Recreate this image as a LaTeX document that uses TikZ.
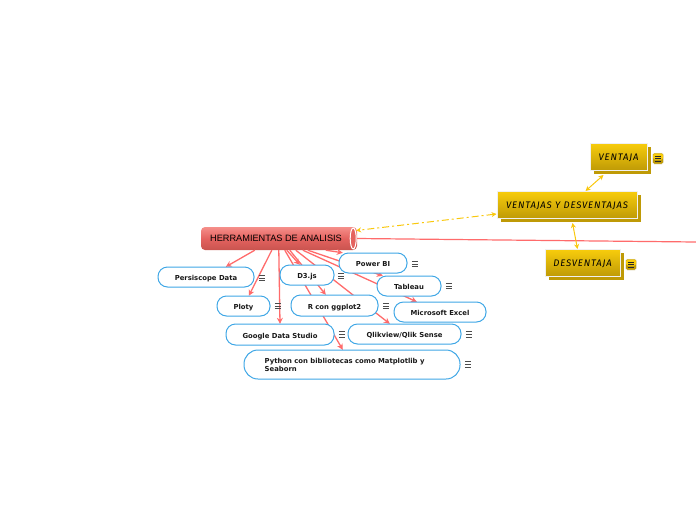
\documentclass[tikz,border=0pt]{standalone}
\usepackage{fontspec}
\setmainfont{DejaVu Sans}
\newfontfamily\censans{Liberation Sans}
\newfontfamily\handfont[LetterSpace=9]{Fira Sans}
\usetikzlibrary{arrows.meta,shadows}
\definecolor{rl}{HTML}{FF6B6B}
\definecolor{bl}{HTML}{3FA7E6}
\definecolor{yl}{HTML}{F9C80E}
\definecolor{gt}{HTML}{F7CC0C}
\definecolor{gb}{HTML}{BF9A06}
\definecolor{ct}{HTML}{F58F8A}
\definecolor{cm}{HTML}{E4625F}
\definecolor{cb}{HTML}{C9544F}
\newcommand{\lowr}[1]{\raisebox{-3.6pt}[0pt][0pt]{#1}}
\tikzset{
 leaf/.style={draw=bl,line width=1pt,fill=white,rounded corners=9.5pt,inner sep=0pt,align=center,
   font=\bfseries\fontsize{6.85}{8}\selectfont,text=black!90},
 redline/.style={draw=rl,line width=1.3pt,-{Stealth[length=6pt,width=6pt]}},
 yline/.style={draw=yl,line width=1pt,{Stealth[length=5pt,width=5pt]}-{Stealth[length=5pt,width=5pt]}},
 gold/.style={draw=black!6,line width=1pt,top color=gt,bottom color=gb,inner sep=0pt,align=center,
   font=\handfont\itshape\fontsize{9.5}{10}\selectfont,text=black,
   copy shadow={shadow xshift=3.5pt,shadow yshift=-3.5pt,draw=none,fill=gb}},
 cen/.style={draw=none,top color=ct,bottom color=cb,middle color=cm,
   rounded corners=4pt,inner sep=0pt,font=\censans\fontsize{9.2}{11}\selectfont,text=black}
}
\newcommand{\burger}[2]{\draw[black!70,line width=0.7pt] (#1-3.2,#2-2.8)--(#1+3.2,#2-2.8) (#1-3.2,#2)--(#1+3.2,#2) (#1-3.2,#2+2.8)--(#1+3.2,#2+2.8);}
\newcommand{\goldburger}[2]{\fill[gb,rounded corners=1.5pt,draw=black!6,line width=.5pt] (#1-5.5,#2-5.5) rectangle (#1+5.5,#2+5.5);
 \fill[gt,rounded corners=1.5pt] (#1-5,#2-5) rectangle (#1+5,#2+1);
 \draw[black!85,line width=0.8pt] (#1-3.2,#2-2.6)--(#1+3.2,#2-2.6) (#1-3.2,#2)--(#1+3.2,#2) (#1-3.2,#2+2.6)--(#1+3.2,#2+2.6);}
\begin{document}
\begin{tikzpicture}[x=1pt,y=-1pt]
\useasboundingbox (0,0) rectangle (696,520);
\coordinate (edge) at (696,242);
\path (279,238.5) node[cen,minimum width=156pt,minimum height=23pt] (c) {\hspace*{-3pt}HERRAMIENTAS DE ANALISIS\hspace*{3pt}};
\path[every node/.style={minimum height=20pt,inner sep=0pt}]
 (206,277) node[minimum width=96pt] (pers) {}
 (243.5,306) node[minimum width=53pt] (plot) {}
 (280,334.5) node[minimum width=108pt,minimum height=21pt] (goog) {}
 (352,364.5) node[minimum width=216pt,minimum height=29pt] (pyth) {}
 (307,275) node[minimum width=54pt] (d3) {}
 (334.5,305.5) node[minimum width=87pt,minimum height=21pt] (rgg) {}
 (373,263) node[minimum width=68pt] (pbi) {}
 (409,286) node[minimum width=64pt] (tab) {}
 (440,312) node[minimum width=92pt] (exc) {}
 (404.5,334) node[minimum width=113pt] (qlk) {};
\draw[redline] ([xshift=54pt]c.south west) -- ([xshift=68pt]pers.north west);
\draw[redline] ([xshift=71pt]c.south west) -- ([xshift=32pt]plot.north west);
\draw[redline] ([xshift=78pt]c.south west) -- (goog.north);
\draw[redline] ([xshift=86pt]c.south west) -- ([xshift=20pt]d3.north west);
\draw[redline] ([xshift=89pt]c.south west) -- ([xshift=35pt]rgg.north west);
\draw[redline] ([xshift=84pt]c.south west) -- ([xshift=99pt]pyth.north west);
\draw[redline] ([xshift=95pt]c.south west) -- ([xshift=42pt]qlk.north west);
\draw[redline] ([xshift=102pt]c.south west) -- ([xshift=23pt]exc.north west);
\draw[redline] ([xshift=107pt]c.south west) -- ([xshift=6pt]tab.north west);
\draw[redline] ([xshift=125pt]c.south west) -- ([xshift=4pt]pbi.north west);
\draw[rl,line width=1.2pt] (c.east) -- (edge);
\path
 (206,277) node[leaf,minimum width=96pt,minimum height=20pt] (pers) {\lowr{Persiscope Data}}
 (243.5,306) node[leaf,minimum width=53pt,minimum height=20pt] (plot) {\lowr{Ploty}}
 (280,334.5) node[leaf,minimum width=108pt,minimum height=21pt] (goog) {\lowr{Google Data Studio}}
 (352,364.5) node[leaf,rounded corners=14pt,minimum width=216pt,minimum height=29pt] (pyth) {}
 (307,275) node[leaf,minimum width=54pt,minimum height=20pt] (d3) {\lowr{D3.js}}
 (334.5,305.5) node[leaf,minimum width=87pt,minimum height=21pt] (rgg) {\lowr{R con ggplot2}}
 (373,263) node[leaf,minimum width=68pt,minimum height=20pt] (pbi) {\lowr{Power BI}}
 (409,286) node[leaf,minimum width=64pt,minimum height=20pt] (tab) {\lowr{Tableau}}
 (440,312) node[leaf,minimum width=92pt,minimum height=20pt] (exc) {\lowr{Microsoft Excel}}
 (404.5,334) node[leaf,minimum width=113pt,minimum height=20pt] (qlk) {\lowr{Qlikview/Qlik Sense}};
\node[anchor=west,align=left,inner sep=0pt,font=\bfseries\fontsize{6.85}{8}\selectfont,text=black!90] (pytxt) at (264.5,364.5) {Python con bibliotecas como Matplotlib y\\Seaborn};
\draw[white,line width=1pt,fill=cm] ([xshift=-4pt]c.east) ellipse (3pt and 10.5pt);
\burger{262}{278}\burger{278}{306}\burger{342}{334.5}\burger{341}{276}\burger{386}{306}
\burger{415}{264}\burger{449}{286}\burger{469}{334.5}\burger{468}{364.5}
\node[gold,minimum width=140pt,minimum height=27pt] (vd) at (567,205) {\raisebox{-3.4pt}[0pt][0pt]{VENTAJAS Y DESVENTAJAS}};
\node[gold,minimum width=57pt,minimum height=27pt] (v) at (618.5,157) {\raisebox{-3.4pt}[0pt][0pt]{VENTAJA}};
\node[gold,minimum width=75pt,minimum height=27pt] (d) at (582.5,263) {\raisebox{-3.4pt}[0pt][0pt]{DESVENTAJA}};
\draw[yline] ([xshift=89pt]vd.north west) -- ([xshift=14pt,yshift=-4pt]v.south west);
\draw[yline] ([xshift=76pt,yshift=-4pt]vd.south west) -- ([xshift=33pt]d.north west);
\draw[yline,dash pattern=on 7pt off 3pt on 2pt off 3pt] ([yshift=-9pt]vd.west) -- ([xshift=-1pt,yshift=8pt]c.east);
\goldburger{658}{158.5}\goldburger{631}{264.5}
\end{tikzpicture}
\end{document}
